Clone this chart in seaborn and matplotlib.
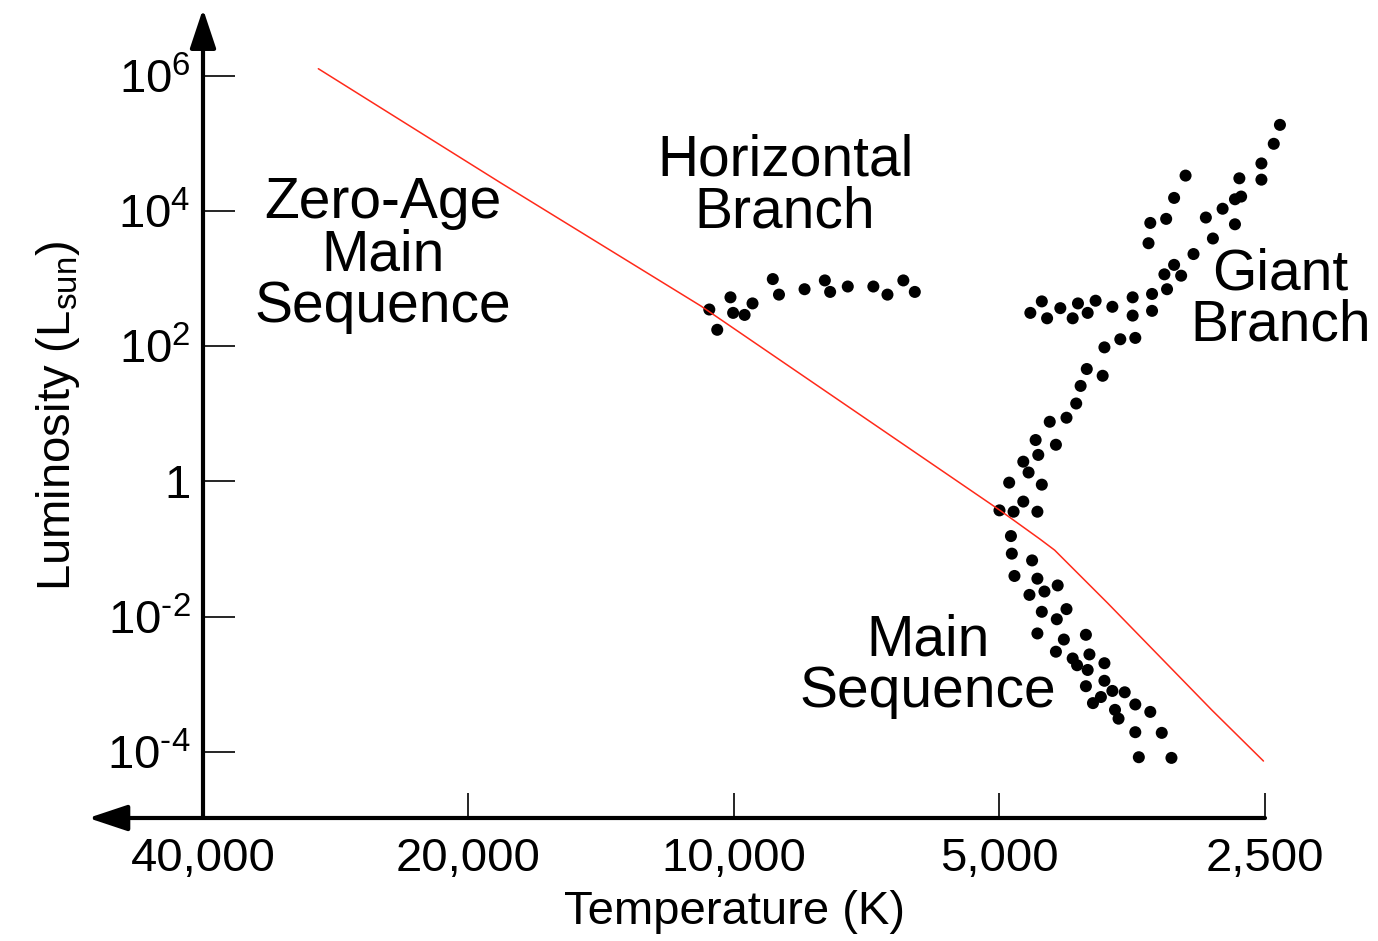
import numpy as np
import pandas as pd
import matplotlib
matplotlib.use("Agg")
import matplotlib.pyplot as plt
import seaborn as sns

# log10 of temperature (K) and luminosity (L_sun)
hb_logT = [4.028, 4.019, 4.004, 4.001, 3.988, 3.979, 3.956, 3.949, 3.920, 3.897,
           3.891, 3.871, 3.842, 3.826, 3.808, 3.795]
hb_logL = [2.54, 2.24, 2.72, 2.49, 2.46, 2.63, 2.99, 2.76, 2.84, 2.97,
           2.80, 2.88, 2.88, 2.76, 2.97, 2.80]

gb_logT = [3.381, 3.388, 3.402, 3.402, 3.427, 3.488, 3.501, 3.528, 3.510, 3.530,
           3.425, 3.432, 3.446, 3.465, 3.432, 3.457, 3.479, 3.501, 3.512, 3.493,
           3.509, 3.526, 3.526, 3.548, 3.548, 3.571, 3.590, 3.610, 3.599, 3.616,
           3.630, 3.651, 3.645, 3.664, 3.545, 3.562, 3.580,
           3.600, 3.582, 3.607, 3.612, 3.623, 3.642, 3.658, 3.635, 3.655, 3.672,
           3.666, 3.688, 3.651, 3.672, 3.699, 3.683, 3.656, 3.686]
gb_logL = [5.27, 4.99, 4.70, 4.46, 4.48, 4.52, 4.19, 3.82, 3.88, 3.52,
           4.21, 4.17, 4.03, 3.90, 3.80, 3.59, 3.36, 3.20, 3.06, 3.04,
           2.84, 2.77, 2.52, 2.72, 2.45, 2.58, 2.67, 2.63, 2.49, 2.41,
           2.56, 2.66, 2.41, 2.49, 2.12, 2.10, 1.98,
           1.66, 1.56, 1.41, 1.15, 0.94, 0.88, 0.61, 0.54, 0.39, 0.29,
           0.13, -0.02, -0.05, -0.30, -0.43, -0.45, -0.45, -0.81]

ms_logT = [3.685, 3.662, 3.682, 3.656, 3.633, 3.648, 3.665, 3.623, 3.651, 3.634,
           3.656, 3.626, 3.601, 3.635, 3.597, 3.616, 3.611, 3.599, 3.580, 3.580,
           3.601, 3.571, 3.557, 3.584, 3.593, 3.545, 3.568, 3.564, 3.528, 3.545,
           3.515, 3.541, 3.504]
ms_logL = [-1.07, -1.17, -1.40, -1.44, -1.54, -1.63, -1.68, -1.89, -1.93, -2.04,
           -2.25, -2.34, -2.27, -2.52, -2.56, -2.62, -2.72, -2.79, -2.69, -2.95,
           -3.03, -3.10, -3.12, -3.19, -3.28, -3.30, -3.38, -3.51, -3.41, -3.71,
           -3.72, -4.08, -4.09]

# zero-age main sequence line
zams_T = [29600, 18400, 10900, 5000, 4500, 4330, 3770, 2870, 2510]
zams_L = [1.26e6, 2.6e4, 390, 0.376, 0.14, 0.096, 0.0158, 4.1e-4, 7.3e-5]

x_ticks = [40000, 20000, 10000, 5000, 2500]
x_labels = ["40,000", "20,000", "10,000", "5,000", "2,500"]
y_ticks = [1e-4, 1e-2, 1, 1e2, 1e4, 1e6]
y_labels = ["$\\mathregular{10^{\u20104}}$", "$\\mathregular{10^{\u20102}}$", "1",
            r"$\mathregular{10^{2}}$", r"$\mathregular{10^{4}}$", r"$\mathregular{10^{6}}$"]

stars = pd.DataFrame({
    "T": 10 ** np.array(hb_logT + gb_logT + ms_logT),
    "L": 10 ** np.array(hb_logL + gb_logL + ms_logL),
})
zams = pd.DataFrame({"T": zams_T, "L": zams_L})

sns.set_theme(style="white")
plt.rcParams["font.family"] = ["Liberation Sans", "DejaVu Sans"]

fig = plt.figure(figsize=(13.78, 9.41), dpi=100)
ax = fig.add_axes([203 / 1378, 1 - 818 / 941, 1062 / 1378, 805 / 941])

sns.lineplot(data=zams, x="T", y="L", sort=False, estimator=None,
             color="#ff2a1a", linewidth=1.1, ax=ax)
sns.scatterplot(data=stars, x="T", y="L", color="black", s=75,
                edgecolor="none", clip_on=False, ax=ax)

ax.set_xscale("log")
ax.set_yscale("log")
ax.set_xlim(40000, 2500)
ax.set_ylim(1.05e-5, 8.4e6)
ax.minorticks_off()
ax.set_xticks(x_ticks)
ax.set_xticklabels(x_labels)
ax.set_yticks(y_ticks)
ax.set_yticklabels(y_labels)
ax.tick_params(axis="x", direction="in", length=18, width=1.2, pad=14,
               labelsize=34, bottom=True, colors="black")
ax.tick_params(axis="y", direction="in", length=23, width=1.2, pad=9,
               labelsize=34, left=True, colors="black")

for s in ax.spines.values():
    s.set_visible(False)

arrow = dict(arrowstyle="-|>,head_length=1.2,head_width=0.4", lw=3,
             color="black", mutation_scale=20, shrinkA=0, shrinkB=0)
ax.annotate("", xy=(0, 1.005), xytext=(0, 0), xycoords="axes fraction",
            textcoords="axes fraction", arrowprops=arrow, annotation_clip=False)
ax.annotate("", xy=(-0.108, 0), xytext=(1, 0), xycoords="axes fraction",
            textcoords="axes fraction", arrowprops=arrow, annotation_clip=False)

ax.set_xlabel("Temperature (K)", fontsize=34, labelpad=6, color="black")
ax.set_ylabel(r"Luminosity (L$_\mathregular{sun}$)", fontsize=34, labelpad=18,
              color="black")

txt = dict(fontsize=41, ha="center", va="center", linespacing=0.95, color="black")
ax.text(25000, 2200, "Zero-Age\nMain\nSequence", **txt)
ax.text(8750, 22500, "Horizontal\nBranch", **txt)
ax.text(2400, 480, "Giant\nBranch", clip_on=False, **txt)
ax.text(6030, 1.85e-3, "Main\nSequence", **txt)

fig.savefig("out.png", dpi=100)
